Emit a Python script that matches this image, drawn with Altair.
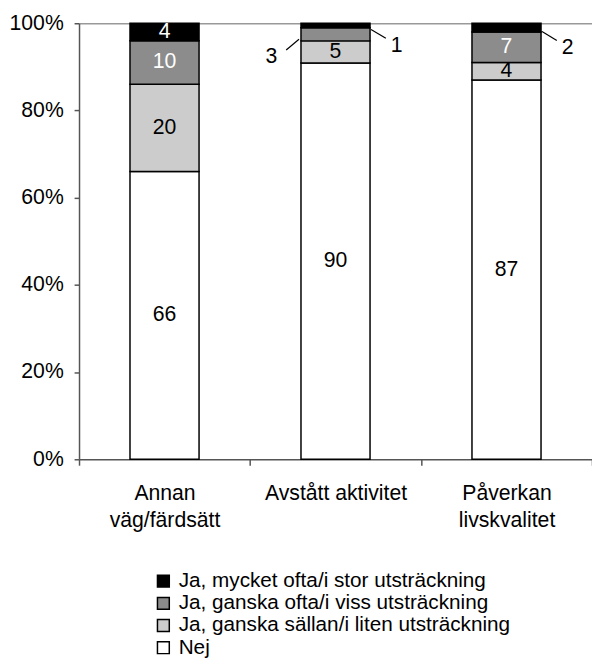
import altair as alt
import pandas as pd

categories = ["Annan\nväg/färdsätt", "Avstått aktivitet", "Påverkan\nlivskvalitet"]
series = [
    "Ja, mycket ofta/i stor utsträckning",
    "Ja, ganska ofta/i viss utsträckning",
    "Ja, ganska sällan/i liten utsträckning",
    "Nej",
]
mycket_ofta = [4, 1, 2]
ganska_ofta = [10, 3, 7]
ganska_sallan = [20, 5, 4]
nej = [66, 90, 87]
colors = ["#000000", "#8c8c8c", "#cccccc", "#ffffff"]

# labels drawn outside the bar with a leader line: (category index, series index, side)
outside = [(1, 1, "left"), (1, 0, "right"), (2, 0, "right")]

values_by_series = [mycket_ofta, ganska_ofta, ganska_sallan, nej]
rows = []
for ci, cat in enumerate(categories):
    total = sum(v[ci] for v in values_by_series)
    start = 0.0
    # stack from the bottom: Nej first
    for si in [3, 2, 1, 0]:
        v = values_by_series[si][ci]
        end = start + v / total
        side = "inside"
        for oc, os_, sd in outside:
            if oc == ci and os_ == si:
                side = sd
        rows.append(dict(cat=cat, series=series[si], val=v, y0=start, y1=end,
                         mid=(start + end) / 2, order=3 - si, side=side,
                         dark=si in (0, 1)))
        start = end
df = pd.DataFrame(rows)

FONT = "Liberation Sans"
FS = 21.5

xenc = alt.X("cat:N", sort=categories,
             scale=alt.Scale(paddingInner=0, paddingOuter=0),
             axis=alt.Axis(title=None, labelAngle=0, tickBand="extent",
                           labelExpr="split(datum.label, '\\n')",
                           labelLineHeight=27, labelFontSize=FS, labelFont=FONT,
                           labelColor="black", labelPadding=18, tickSize=6,
                           domainColor="#555555", tickColor="#555555",
                           domainWidth=1.5, tickWidth=1.5, labelBaseline="top"))

base = alt.Chart(df)

bars = base.mark_bar(stroke="black", strokeWidth=1.5, width=70).encode(
    x=xenc,
    y=alt.Y("y0:Q", scale=alt.Scale(domain=[0, 1], nice=False),
            axis=alt.Axis(title=None, values=[0, 0.2, 0.4, 0.6, 0.8, 1.0], format="%",
                          labelFontSize=FS, labelFont=FONT, labelColor="black",
                          labelPadding=11, tickSize=5, domainColor="#555555",
                          tickColor="#555555", domainWidth=1.5, tickWidth=1.5,
                          grid=True, gridColor="#999999", gridWidth=1.5,
                          gridOpacity=alt.condition("datum.value == 1", alt.value(1), alt.value(0)))),
    y2="y1:Q",
    color=alt.Color("series:N", scale=alt.Scale(domain=series, range=colors),
                    legend=alt.Legend(orient="none", legendX=75, legendY=555, title=None,
                                      symbolType="square", symbolSize=144,
                                      symbolStrokeColor="black", symbolStrokeWidth=1.5,
                                      labelFontSize=21, labelFont=FONT, labelColor="black",
                                      labelLimit=0, rowPadding=0.5, labelOffset=5, padding=0)),
    order=alt.Order("order:Q"),
)

inside = base.transform_filter("datum.side == 'inside'").mark_text(
    font=FONT, fontSize=FS, baseline="middle", align="center").encode(
    x=alt.X("cat:N", sort=categories),
    y=alt.Y("mid:Q"),
    text="val:Q",
    color=alt.condition("datum.dark", alt.value("white"), alt.value("black")),
)

right_txt = base.transform_filter("datum.side == 'right'").mark_text(
    font=FONT, fontSize=FS, baseline="middle", align="center", dx=62, dy=21,
    color="black").encode(x=alt.X("cat:N", sort=categories), y="mid:Q", text="val:Q")

left_txt = base.transform_filter("datum.side == 'left'").mark_text(
    font=FONT, fontSize=FS, baseline="middle", align="center", dx=-65, dy=23,
    color="black").encode(x=alt.X("cat:N", sort=categories), y="mid:Q", text="val:Q")

right_line = base.transform_filter("datum.side == 'right'").mark_rule(
    color="black", strokeWidth=1.2, xOffset=36, x2Offset=51, yOffset=4, y2Offset=13).encode(
    x=alt.X("cat:N", sort=categories), x2="cat:N", y="mid:Q", y2="mid:Q")

left_line = base.transform_filter("datum.side == 'left'").mark_rule(
    color="black", strokeWidth=1.2, xOffset=-37, x2Offset=-50, yOffset=5, y2Offset=16).encode(
    x=alt.X("cat:N", sort=categories), x2="cat:N", y="mid:Q", y2="mid:Q")

chart = alt.layer(bars, inside, right_txt, left_txt, right_line, left_line).properties(
    width=520, height=442,
    autosize=alt.AutoSizeParams(type="none"),
    padding={"left": 72, "top": 11, "right": 0, "bottom": 200},
).configure_view(stroke=None)

chart.save("out.html", embed_options={"renderer": "svg", "actions": False})
